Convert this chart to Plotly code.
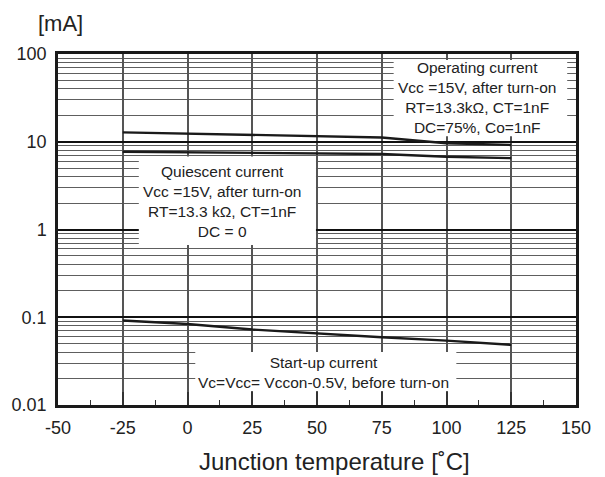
import plotly.graph_objects as go

temps = [-25, 0, 25, 50, 75, 100, 125]
operating_mA = [12.8, 12.4, 12.1, 11.6, 11.2, 9.6, 9.2]
quiescent_mA = [7.7, 7.57, 7.45, 7.35, 7.24, 6.75, 6.5]
startup_mA = [0.0917, 0.0839, 0.0724, 0.0652, 0.0592, 0.0542, 0.0484]

x_ticks = [-50, -25, 0, 25, 50, 75, 100, 125, 150]
x_ticktext = ["-50", "-25", "0", "25", "50", "75", "100", "125", "150"]
y_ticks = [0.01, 0.1, 1, 10, 100]
y_ticktext = ["0.01", "0.1", "1", "10", "100"]

FONT = "Liberation Sans, Arial, sans-serif"
TXT = "#222222"

fig = go.Figure()
for vals in (operating_mA, quiescent_mA, startup_mA):
    fig.add_trace(go.Scatter(x=temps, y=vals, mode="lines",
                             line=dict(color="#1a1a1a", width=2.4),
                             showlegend=False, hoverinfo="skip"))

# white label boxes covering the grid
boxes = [
    (0.648, 0.983, 0.766, 0.983),
    (0.156, 0.498, 0.456, 0.708),
    (0.265, 0.769, 0.040, 0.151),
]
for x0, x1, y0, y1 in boxes:
    fig.add_shape(type="rect", xref="paper", yref="paper", x0=x0, x1=x1, y0=y0, y1=y1,
                  fillcolor="white", line=dict(width=0), layer="above")

notes = [
    (0.808, 0.875, "Operating current<br>Vcc =15V, after turn-on<br>RT=13.3kΩ, CT=1nF<br>DC=75%, Co=1nF"),
    (0.317, 0.580, "Quiescent current<br>Vcc =15V, after turn-on<br>RT=13.3 kΩ, CT=1nF<br>DC = 0"),
    (0.512, 0.0926, "Start-up current<br>Vc=Vcc= Vccon-0.5V, before turn-on"),
]
for x, y, t in notes:
    fig.add_annotation(xref="paper", yref="paper", x=x, y=y, text=t, showarrow=False,
                       align="center", xanchor="center", yanchor="middle",
                       font=dict(family=FONT, size=15.5, color=TXT))

fig.add_annotation(xref="paper", yref="paper", x=0.004, y=1.088, text="[mA]", showarrow=False,
                   xanchor="center", yanchor="middle", font=dict(family=FONT, size=22, color=TXT))
fig.add_annotation(xref="paper", yref="paper", x=(333.5 - 56) / 520, y=(405 - 461) / 351,
                   text="Junction temperature [˚C]", showarrow=False,
                   xanchor="center", yanchor="middle", font=dict(family=FONT, size=24, color=TXT))

fig.update_layout(
    width=605, height=477,
    margin=dict(l=56, r=29, t=54, b=72),
    paper_bgcolor="white", plot_bgcolor="white",
    font=dict(family=FONT, color=TXT),
)
fig.update_xaxes(
    range=[-50, 150], tickvals=x_ticks, ticktext=x_ticktext,
    showgrid=True, gridcolor="#555555", gridwidth=1.5,
    zeroline=False, showline=True, linecolor="#1a1a1a", linewidth=3, mirror=True,
    ticks="inside", ticklen=13, tickcolor="#333333", tickwidth=1.5,
    minor=dict(dtick=12.5, ticks="inside", ticklen=5, tickcolor="#333333", tickwidth=1.2, showgrid=False),
    tickfont=dict(family=FONT, size=18, color=TXT), ticklabelstandoff=4,
)
fig.update_yaxes(
    type="log", range=[-2, 2], tickvals=y_ticks, ticktext=y_ticktext,
    showgrid=True, gridcolor="#111111", gridwidth=2,
    zeroline=False, showline=True, linecolor="#1a1a1a", linewidth=2.5, mirror=True,
    ticks="", minor=dict(dtick="D1", showgrid=True, gridcolor="#5e5e5e", gridwidth=1.2),
    tickfont=dict(family=FONT, size=18, color=TXT), ticklabelstandoff=5,
)

fig.write_html("out.html", config={"displayModeBar": False},
               post_script="document.body.style.margin='0';")
